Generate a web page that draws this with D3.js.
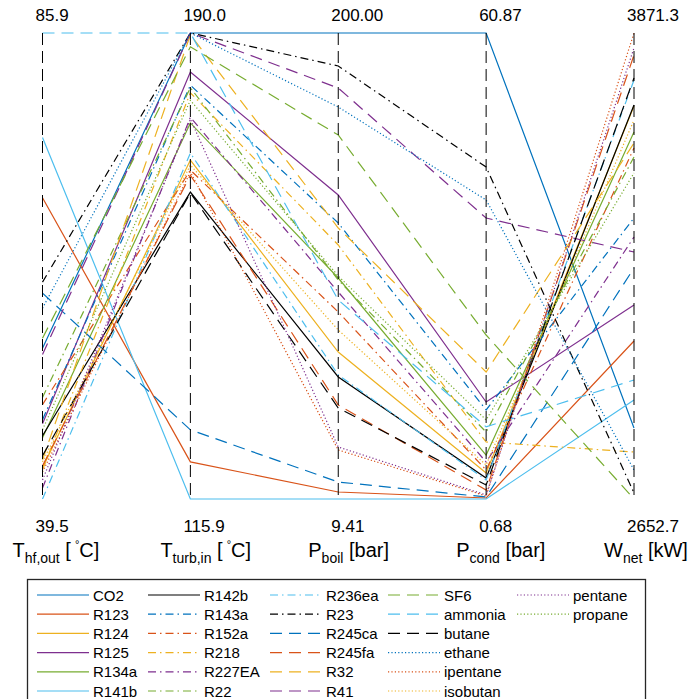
<!DOCTYPE html>
<html>
<head>
<meta charset="utf-8">
<script src="https://cdn.jsdelivr.net/npm/d3@7"></script>
<style>
  html, body { margin: 0; padding: 0; background: #fff; }
  svg { display: block; font-family: "Liberation Sans", Arial, Helvetica, sans-serif; }
</style>
</head>
<body>
<svg id="chart" width="699" height="699"></svg>
<script>
// Working fluids, in plotting / legend order
const fluids = ["CO2","R123","R124","R125","R134a","R141b","R142b","R143a","R152a","R218",
  "R227EA","R22","R236ea","R23","R245ca","R245fa","R32","R41","SF6","ammonia",
  "butane","ethane","ipentane","isobutan","pentane","propane"];

// Heat-source outlet temperature [°C]
const tHfOut = [54.5, 69.5, 42.6, 47.0, 45.6, 75.5, 45.8, 47.4, 48.9, 42.4,
  40.6, 49.6, 39.5, 61.1, 60.0, 42.8, 43.4, 53.9, 55.5, 85.9,
  43.8, 58.5, 42.2, 43.2, 41.4, 46.4];

// Turbine inlet temperature [°C]
const tTurbIn = [190.0, 121.8, 169.8, 183.8, 175.7, 115.9, 164.7, 181.7, 168.2, 180.5,
  176.6, 181.3, 170.9, 190.0, 126.9, 167.4, 189.7, 190.0, 187.8, 190.0,
  164.6, 190.0, 167.9, 169.0, 176.3, 179.3];

// Boiler pressure [bar]
const pBoil = [200.00, 12.27, 69.53, 133.74, 99.80, 9.41, 59.31, 122.29, 85.89, 113.29,
  94.07, 98.98, 60.12, 186.50, 16.36, 47.86, 120.25, 177.50, 158.28, 90.80,
  46.63, 169.73, 29.45, 78.53, 30.68, 100.61];

// Condenser pressure [bar]
const pCond = [60.87, 0.81, 4.04, 13.21, 6.36, 0.68, 3.39, 12.18, 4.43, 8.04,
  5.46, 9.33, 3.13, 43.56, 0.94, 1.84, 17.08, 36.97, 21.86, 10.00,
  2.49, 39.30, 1.07, 5.07, 1.20, 10.90];

// Net power output [kW]
const wNet = [2838.4, 3065.9, 3680.4, 3160.0, 3612.4, 2911.6, 3683.0, 3387.5, 3570.6, 2775.6,
  3337.8, 3547.0, 3748.4, 2668.4, 3256.8, 3813.8, 3583.6, 3298.6, 2652.7, 2963.9,
  3753.6, 2728.5, 3871.3, 3643.8, 3832.1, 3505.2];

// Axis end labels and titles
const topTicks = ["85.9", "190.0", "200.00", "60.87", "3871.3"];
const bottomTicks = ["39.5", "115.9", "9.41", "0.68", "2652.7"];
const titleMain = ["T", "T", "P", "P", "W"];
const titleSub = ["hf,out", "turb,in", "boil", "cond", "net"];
const titleUnit = ["°C", "°C", "bar", "bar", "kW"];

const dims = [tHfOut, tTurbIn, pBoil, pCond, wNet];

const svg = d3.select("#chart");

// Line styles: 7 colours cycle, then the dash pattern changes
const palette = ["#0072BD", "#D95319", "#EDB120", "#7E2F8E", "#77AC30", "#4DBEEE", "#000000"];
const dashes = [null, "8,4,1.5,4", "12,7", "1.2,2.2"];
const colorOf = i => palette[i % palette.length];
const dashOf = i => dashes[Math.floor(i / palette.length)];

const yTop = 33, yBottom = 499;
const x = d3.scalePoint().domain(d3.range(dims.length)).range([42.5, 634]);
const yScales = dims.map(d => d3.scaleLinear().domain(d3.extent(d)).range([yBottom, yTop]));

const line = d3.line();

// Polylines, one per fluid
const plot = svg.append("g");
plot.selectAll("path.fluid")
  .data(fluids)
  .join("path")
  .attr("class", "fluid")
  .attr("d", (f, i) => line(dims.map((d, j) => [x(j), yScales[j](d[i])])))
  .attr("fill", "none")
  .attr("stroke", (f, i) => colorOf(i))
  .attr("stroke-width", 1.2)
  .attr("stroke-dasharray", (f, i) => dashOf(i));

// Vertical dashed axes
const axes = svg.append("g");
axes.selectAll("line")
  .data(d3.range(dims.length))
  .join("line")
  .attr("x1", j => x(j)).attr("x2", j => x(j))
  .attr("y1", yTop).attr("y2", yBottom)
  .attr("stroke", "#000")
  .attr("stroke-width", 1)
  .attr("stroke-dasharray", "12,6");

// Max / min labels
axes.selectAll("text.top")
  .data(topTicks)
  .join("text")
  .attr("class", "top")
  .attr("x", (t, j) => x(j) - 7)
  .attr("y", 21)
  .attr("font-size", 17)
  .attr("fill", "#000")
  .text(t => t);

axes.selectAll("text.bottom")
  .data(bottomTicks)
  .join("text")
  .attr("class", "bottom")
  .attr("x", (t, j) => x(j) - 7)
  .attr("y", 532)
  .attr("font-size", 17)
  .attr("fill", "#000")
  .text(t => t);

// Axis titles with subscripts
titleMain.forEach((m, j) => {
  const t = axes.append("text")
    .attr("x", x(j) - 30)
    .attr("y", 557)
    .attr("font-size", 20)
    .attr("fill", "#000");
  t.append("tspan").text(m);
  t.append("tspan").attr("font-size", 14).attr("dy", 6).text(titleSub[j]);
  const unit = titleUnit[j];
  if (unit.startsWith("°")) {
    t.append("tspan").attr("dy", -6).text(" [\u2009");
    t.append("tspan").attr("font-size", 11).attr("dy", -9).text("°");
    t.append("tspan").attr("dy", 9).text(unit.slice(1) + "]");
  } else {
    t.append("tspan").attr("dy", -6).text(" [" + unit + "]");
  }
});

// Legend
const legend = svg.append("g");
legend.append("rect")
  .attr("x", 27.5).attr("y", 579.5)
  .attr("width", 618).attr("height", 140)
  .attr("fill", "#fff")
  .attr("stroke", "#262626")
  .attr("stroke-width", 1.3);

const rowsPerCol = 6;
const colTextX = [93, 204, 326, 444, 573];
const rowY = r => 595 + r * 19.2;

const items = legend.selectAll("g.item")
  .data(fluids)
  .join("g")
  .attr("class", "item")
  .attr("transform", (f, i) => `translate(${colTextX[Math.floor(i / rowsPerCol)]},${rowY(i % rowsPerCol)})`);

items.append("line")
  .attr("x1", -56).attr("x2", -4)
  .attr("y1", 0).attr("y2", 0)
  .attr("stroke", (f, i) => colorOf(i))
  .attr("stroke-width", 1.2)
  .attr("stroke-dasharray", (f, i) => dashOf(i));

items.append("text")
  .attr("x", 0).attr("y", 5.5)
  .attr("font-size", 15)
  .attr("fill", "#000")
  .text(f => f);
</script>
</body>
</html>
